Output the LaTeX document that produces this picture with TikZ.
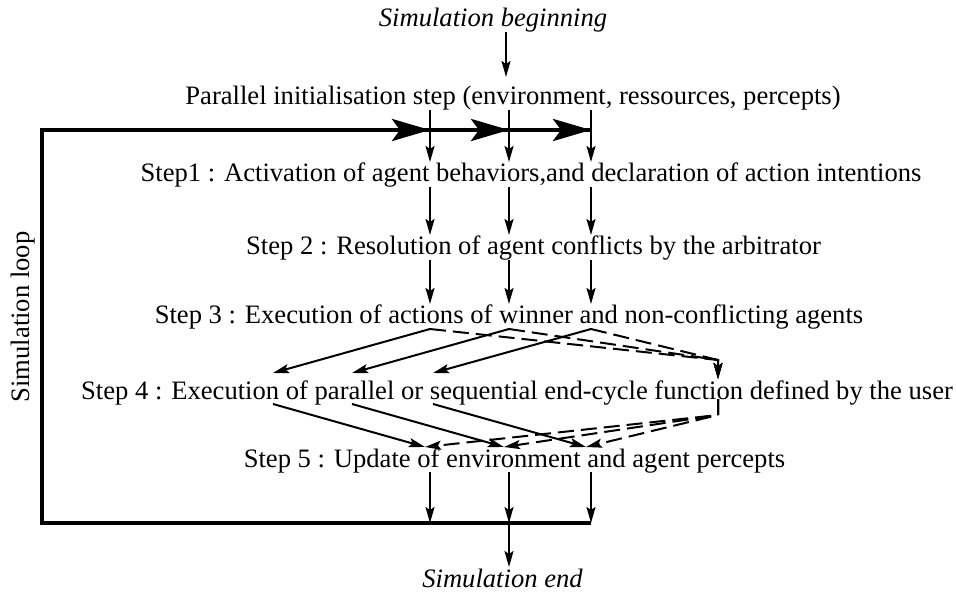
\documentclass[tikz,border=0pt]{standalone}
\usepackage{fontspec}
\setmainfont{Liberation Serif}
\usetikzlibrary{arrows.meta}
\begin{document}
\begin{tikzpicture}[x=0.5pt,y=-0.5pt,
    txt/.style={font=\fontsize{13.3}{16}\selectfont, inner sep=0pt, outer sep=0.5pt,
      text height=9.5pt, text depth=2pt, anchor=base},
    arr/.style={line width=1pt, -{Stealth[length=8pt,width=4.5pt,inset=1.5pt]}},
    darr/.style={arr, dash pattern=on 8pt off 3.5pt},
    loopline/.style={line width=2.2pt},
    bigarr/.style={loopline, -{Stealth[length=19pt,width=11pt,inset=4pt]}}]
    \useasboundingbox (0,0) rectangle (956,592);

    \node[txt] (begin) at (493,27) {\itshape Simulation beginning};
    \node[txt] (init) at (513,105) {Parallel initialisation step (environment, ressources, percepts)};
    \node[txt] (step1) at (531,182) {Step1 : Activation of agent behaviors,and declaration of action intentions};
    \node[txt] (step2) at (533.5,255) {Step 2 : Resolution of agent conflicts by the arbitrator};
    \node[txt] (step3) at (509,324) {Step 3 : Execution of actions of winner and non-conflicting agents};
    \node[txt] (step4) at (517,399) {Step 4 : Execution of parallel or sequential end-cycle function defined by the user};
    \node[txt] (step5) at (514.5,467) {Step 5 : Update of environment and agent percepts};
    \node[txt] (end) at (502.5,587) {\itshape Simulation end};
    \node[txt, rotate=90] (loop) at (29,317) {Simulation loop};

    \coordinate (c1) at (430,0);
    \coordinate (c2) at (509,0);
    \coordinate (c3) at (591,0);
    \coordinate (d1) at (273,0);
    \coordinate (d2) at (352,0);
    \coordinate (d3) at (433,0);
    \coordinate (e1) at (425,0);
    \coordinate (e2) at (504,0);
    \coordinate (e3) at (586,0);
    \coordinate (dx) at (718,0);
    \coordinate (turn3) at (718,360);
    \coordinate (turn4) at (718,415);
    \coordinate (lt) at (42,130);
    \coordinate (lb) at (42,523);

    \draw[loopline] (lb -| c3) -- (lb) -- (lt) -- (lt -| c3);
    \draw[bigarr] (lt) -- (lt -| c1);
    \draw[bigarr] (lt -| c1) -- (lt -| c2);
    \draw[bigarr] (lt -| c2) -- (lt -| c3);

    \draw[arr] ([xshift=-1.5pt]begin.south -| c2) -- ([xshift=-1.5pt,yshift=4pt]init.north -| c2);
    \foreach \i in {1,2,3} {
      \draw[arr] (init.south -| c\i) -- (step1.north -| c\i);
      \draw[arr] (step1.south -| c\i) -- (step2.north -| c\i);
      \draw[arr] (step2.south -| c\i) -- (step3.north -| c\i);
      \draw[arr] (step3.south -| c\i) -- ([yshift=3pt]step4.north -| d\i);
      \draw[darr] (step3.south -| c\i) -- (turn3) -- (step4.north -| dx);
      \draw[arr] (step4.south -| d\i) -- (step5.north -| e\i);
      \draw[darr] (step4.base -| dx) -- (turn4) -- (step5.north -| e\i);
      \draw[arr] (step5.south -| c\i) -- (lb -| c\i);
    }
    \draw[arr] (lb -| c2) -- (end.north -| c2);
\end{tikzpicture}
\end{document}
